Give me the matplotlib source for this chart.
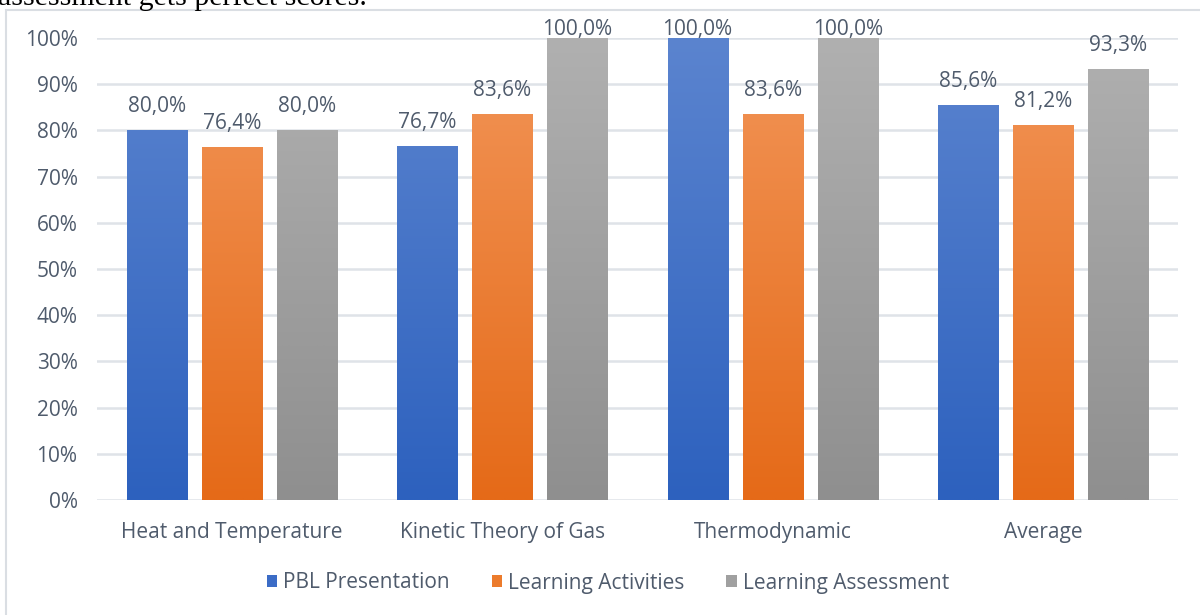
import matplotlib
matplotlib.use("Agg")
import matplotlib.pyplot as plt
import numpy as np
from matplotlib.patches import Rectangle
from matplotlib.colors import LinearSegmentedColormap

categories = ["Heat and Temperature", "Kinetic Theory of Gas", "Thermodynamic", "Average"]
series_names = ["PBL Presentation", "Learning Activities", "Learning Assessment"]
pbl = [80.0, 76.7, 100.0, 85.6]
activities = [76.4, 83.6, 83.6, 81.2]
assessment = [80.0, 100.0, 100.0, 93.3]
yticks = [0, 10, 20, 30, 40, 50, 60, 70, 80, 90, 100]

grad = [("#5b84cf", "#2d61be"), ("#f29558", "#e56a18"), ("#b0b0b0", "#8f8f8f")]
legend_col = ["#3b6cc6", "#ec7b2c", "#a0a0a0"]
text_col = "#4f5b6c"
font = ["Open Sans", "DejaVu Sans"]
fs = 15

W, H = 1200, 615
fig = plt.figure(figsize=(W / 100, H / 100), dpi=100)

# border of chart area
fig.patches.append(Rectangle((6 / W, -0.1), 1.2, 1 - 10 / H + 0.1, transform=fig.transFigure,
                             fill=False, edgecolor="#dadee3", linewidth=1.5))
# cropped caption above
fig.text(-2 / W, 1 - 5 / H, "assessment gets perfect scores.", family="Liberation Serif",
         fontsize=21.5, va="baseline", ha="left", color="black")

ax = fig.add_axes([97 / W, 1 - 500 / H, (1178 - 97) / W, (500 - 38) / H])
ax.set_xlim(-0.5, 3.5)
ax.set_ylim(0, 100)
ax.set_yticks(yticks)
ax.set_yticklabels([f"{t}%" for t in yticks], family=font, fontsize=fs, color=text_col)
ax.set_xticks(range(len(categories)))
ax.set_xticklabels(categories, family=font, fontsize=fs, color=text_col)
ax.tick_params(length=0)
ax.tick_params(axis="y", pad=14)
ax.tick_params(axis="x", pad=16)
for s in ax.spines.values():
    s.set_visible(False)
ax.grid(axis="y", color="#dfe3e8", linewidth=1.8)
ax.set_axisbelow(True)

bw = 60 / 270
step = 75 / 270
all_series = [pbl, activities, assessment]
for i, vals in enumerate(all_series):
    cmap = LinearSegmentedColormap.from_list(f"g{i}", [grad[i][1], grad[i][0]])
    xs = np.arange(len(categories)) + (i - 1) * step
    bars = ax.bar(xs, vals, width=bw, color=legend_col[i], label=series_names[i], zorder=2)
    for b, v in zip(bars, vals):
        x0, w, h = b.get_x(), b.get_width(), b.get_height()
        g = np.linspace(0, 1, 256).reshape(-1, 1) * (h / 100)
        im = ax.imshow(g, cmap=cmap, vmin=0, vmax=1, aspect="auto", origin="lower",
                       extent=[x0, x0 + w, 0, h], zorder=3)
        im.set_clip_path(b)
        ax.text(x0 + w / 2, min(v + 3.9, 100.6), f"{v:.1f}%".replace(".", ","),
                ha="center", va="baseline", family=font, fontsize=fs, color=text_col,
                zorder=4, clip_on=False)

leg = fig.legend(loc="center", bbox_to_anchor=(608 / W, 1 - 583 / H), ncol=3, frameon=False,
                 prop={"family": font, "size": fs}, handlelength=0.5, handleheight=0.5,
                 handletextpad=0.3, columnspacing=2.0)
for t in leg.get_texts():
    t.set_color(text_col)
ax.set_xlim(-0.5, 3.5)
ax.set_ylim(0, 100)

fig.savefig("out.png", dpi=100)
